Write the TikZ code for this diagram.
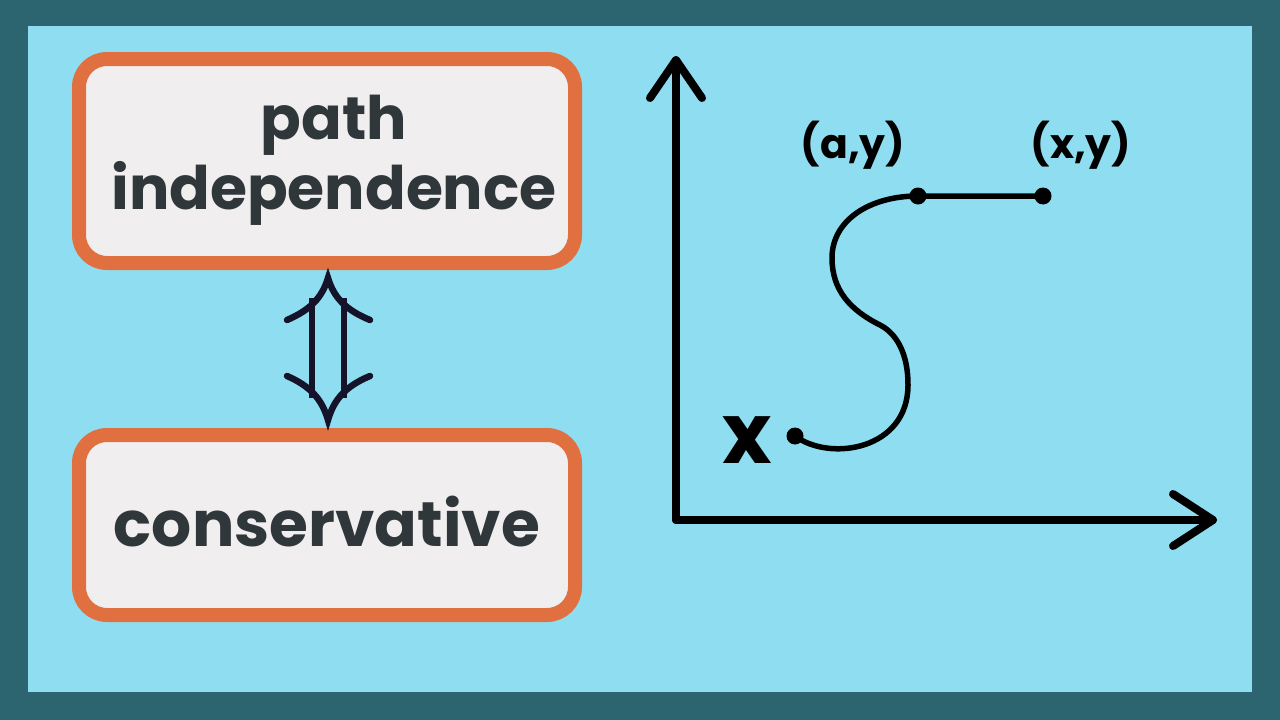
\documentclass[tikz,border=0pt]{standalone}
\usepackage{fontspec}
\setmainfont{Poppins}
\begin{document}
\begin{tikzpicture}[x=1pt,y=-1pt,
  box/.style={draw=boxorange,line width=14pt,fill=boxfill,rounded corners=28pt},
  lbl/.style={font=\bfseries\fontsize{60}{80}\selectfont,text=txt,align=center},
  ax/.style={line width=8pt,line cap=round,line join=round},
  dar/.style={line width=6.5pt,draw=arrowc,line cap=round},
  dot/.style={circle,fill=black,inner sep=0pt,minimum size=17pt}]
\definecolor{teal}{HTML}{2C6470}
\definecolor{sky}{HTML}{8FDDF0}
\definecolor{boxorange}{HTML}{E07040}
\definecolor{boxfill}{HTML}{F0EEEF}
\definecolor{txt}{HTML}{30373B}
\definecolor{arrowc}{HTML}{15132A}
\useasboundingbox (0,0) rectangle (1280,720);
\fill[teal] (0,0) rectangle (1280,720);
\fill[sky] (28,26) rectangle (1252,692);
\draw[box] (79,59) rectangle (575,263);
\node[lbl] (b1) at (334,160) {path\\[-10pt]independence};
\draw[box] (79,435) rectangle (575,615);
\node[lbl,font=\bfseries\fontsize{63}{70}\selectfont] (b2) at (327,522) {conservative};
% double arrow
\coordinate (tt) at (328,278);
\coordinate (tb) at (328,420);
\draw[dar] (287,320) .. controls (310,310) and (322,298) .. (tt) .. controls (334,298) and (346,310) .. (370,320);
\draw[dar] (287,376) .. controls (310,386) and (322,399) .. (tb) .. controls (334,399) and (346,386) .. (370,376);
\draw[dar,line cap=butt] (312,298) -- (312,398);
\draw[dar,line cap=butt] (344,298) -- (344,398);
% axes
\coordinate (o) at (676,520);
\coordinate (yt) at (676,60);
\coordinate (xt) at (1213,520);
\draw[ax] (o) -- (yt);
\draw[ax] (o) -- (xt);
\draw[ax] (650,98) -- (yt) -- (702,98);
\draw[ax] (1173,494) -- (xt) -- (1173,546);
% curve
\node[dot] (p0) at (795,436) {};
\node[dot] (p1) at (918,196) {};
\node[dot] (p2) at (1043,196) {};
\draw[line width=5.5pt] (p0.center) .. controls (830,462) and (908,450) .. (908,385) .. controls (908,345) and (890,330) .. (880,325) .. controls (850,310) and (832,290) .. (832,258) .. controls (832,220) and (870,196) .. (p1.center) -- (p2.center);
\node[font=\bfseries\fontsize{41}{44}\selectfont] (l1) at (853,145) {(a,y)};
\node[font=\bfseries\fontsize{41}{44}\selectfont] (l2) at (1081,145) {(x,y)};
\node[font=\bfseries\fontsize{84}{88}\selectfont] (lx) at (747,440) {x};
\end{tikzpicture}
\end{document}
